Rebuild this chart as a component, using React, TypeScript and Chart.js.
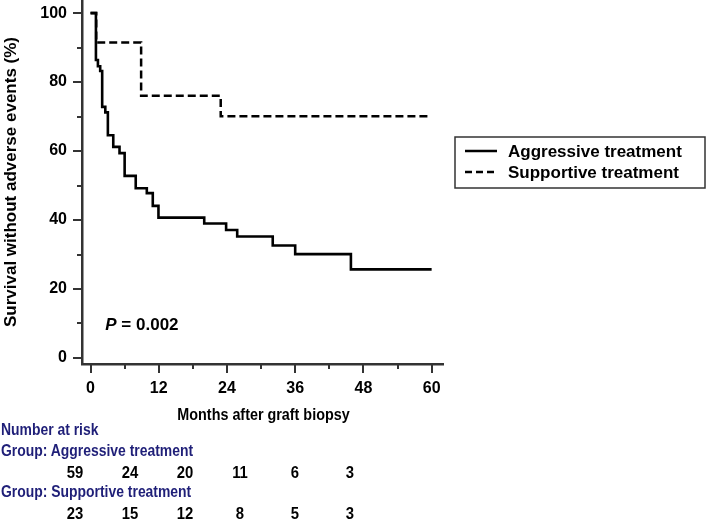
import React, { useEffect, useRef } from "react";
import { Chart, registerables } from "chart.js";

Chart.register(...registerables);

// ---- data ----
const AGG_MONTHS = [0, 0.95, 1.3, 1.7, 2.05, 2.6, 3.05, 4.0, 5.1, 6.0, 7.95, 9.9, 10.95, 11.95, 20.0, 23.85, 25.8, 32.05, 36.0, 45.8, 60];
const AGG_SURV = [100, 86.4, 84.6, 83.2, 72.8, 71.2, 64.6, 61.2, 59.4, 52.8, 49.2, 47.8, 44.1, 40.7, 39.0, 37.1, 35.2, 32.6, 30.1, 25.7, 25.7];
const SUP_MONTHS = [0, 1.0, 8.9, 22.9, 59.4];
const SUP_SURV = [100, 91.5, 76.0, 70.1, 70.1];

const SERIES_NAMES = ["Aggressive treatment", "Supportive treatment"];
const X_TICKS = [0, 6, 12, 18, 24, 30, 36, 42, 48, 54, 60];
const X_LABELED = [0, 12, 24, 36, 48, 60];
const Y_TICKS = [0, 10, 20, 30, 40, 50, 60, 70, 80, 90, 100];
const Y_LABELED = [0, 20, 40, 60, 80, 100];
const X_TITLE = "Months after graft biopsy";
const Y_TITLE = "Survival without adverse events (%)";
const P_VALUE = "0.002";
const P_POS = [2.6, 9.6];

const RISK_TITLE = "Number at risk";
const RISK_GROUPS = ["Group: Aggressive treatment", "Group: Supportive treatment"];
const RISK_AGG = [59, 24, 20, 11, 6, 3];
const RISK_SUP = [23, 15, 12, 8, 5, 3];

const FONT = "'Liberation Sans', Arial, Helvetica, sans-serif";
const AXIS = "#333333";
const NAVY = "#1f1f78";

const decor = {
  id: "decor",
  afterDraw(chart: any) {
    const { ctx, chartArea } = chart;
    const x = chart.scales.x;
    const y = chart.scales.y;
    ctx.save();
    ctx.strokeStyle = AXIS;
    ctx.lineWidth = 2;
    ctx.setLineDash([]);
    // tick marks
    X_TICKS.forEach((v) => {
      const px = Math.round(x.getPixelForValue(v));
      const len = X_LABELED.includes(v) ? 9 : 5;
      ctx.beginPath();
      ctx.moveTo(px, chartArea.bottom);
      ctx.lineTo(px, chartArea.bottom + len);
      ctx.stroke();
    });
    Y_TICKS.forEach((v) => {
      const py = Math.round(y.getPixelForValue(v));
      const len = Y_LABELED.includes(v) ? 9 : 5;
      ctx.beginPath();
      ctx.moveTo(chartArea.left, py);
      ctx.lineTo(chartArea.left - len, py);
      ctx.stroke();
    });

    // x-axis title (slightly condensed like the original)
    ctx.fillStyle = "#000";
    ctx.textBaseline = "middle";
    ctx.textAlign = "center";
    ctx.save();
    ctx.translate((chartArea.left + chartArea.right) / 2 + 1, chartArea.bottom + 51);
    ctx.scale(0.87, 1);
    ctx.font = `bold 16.5px ${FONT}`;
    ctx.fillText(X_TITLE, 0, 0);
    ctx.restore();

    // P value
    ctx.textAlign = "left";
    const px = x.getPixelForValue(P_POS[0]);
    const py = y.getPixelForValue(P_POS[1]);
    ctx.font = `italic bold 17px ${FONT}`;
    ctx.fillText("P", px, py);
    const pw = ctx.measureText("P").width;
    ctx.font = `bold 17px ${FONT}`;
    ctx.fillText(" = " + P_VALUE, px + pw, py);

    // legend
    const lx = chartArea.right + 12;
    const ly = 137;
    const lw = 250;
    const lh = 51;
    ctx.lineWidth = 1.5;
    ctx.strokeStyle = AXIS;
    ctx.strokeRect(lx, ly, lw, lh);
    const rows = [ly + 14, ly + 35];
    ctx.strokeStyle = "#000";
    ctx.lineWidth = 2.5;
    SERIES_NAMES.forEach((name, i) => {
      ctx.setLineDash(i === 1 ? [7, 4] : []);
      ctx.beginPath();
      ctx.moveTo(lx + 10, rows[i]);
      ctx.lineTo(lx + 42, rows[i]);
      ctx.stroke();
      ctx.setLineDash([]);
      ctx.font = `bold 17px ${FONT}`;
      ctx.fillStyle = "#000";
      ctx.fillText(name, lx + 53, rows[i] + 1);
    });
    ctx.restore();
  },
};

export default function App() {
  const ref = useRef<HTMLCanvasElement | null>(null);

  useEffect(() => {
    if (!ref.current) return;
    const chart = new Chart(ref.current, {
      type: "line",
      data: {
        datasets: [
          {
            label: SERIES_NAMES[0],
            data: AGG_MONTHS.map((m, i) => ({ x: m, y: AGG_SURV[i] })),
            borderColor: "#000",
            borderWidth: 2.6,
            pointRadius: 0,
            stepped: "before",
            fill: false,
          },
          {
            label: SERIES_NAMES[1],
            data: SUP_MONTHS.map((m, i) => ({ x: m, y: SUP_SURV[i] })),
            borderColor: "#000",
            borderWidth: 2.5,
            borderDash: [8, 4],
            pointRadius: 0,
            stepped: "before",
            fill: false,
          },
        ],
      },
      options: {
        animation: false,
        responsive: false,
        devicePixelRatio: 1,
        layout: { padding: { left: 0, top: 0, right: 266, bottom: 96 } },
        plugins: { legend: { display: false }, tooltip: { enabled: false } },
        scales: {
          x: {
            type: "linear",
            position: "bottom",
            min: -1.5,
            max: 62,
            afterBuildTicks: (s: any) => {
              s.ticks = X_TICKS.map((v) => ({ value: v }));
            },
            afterFit: (s: any) => {
              s.height = 60;
              s.paddingLeft = 0;
              s.paddingRight = 0;
            },
            grid: { display: false, drawTicks: false },
            border: { display: true, color: AXIS, width: 2.5 },
            ticks: {
              autoSkip: false,
              maxRotation: 0,
              padding: 15,
              color: "#000",
              font: { family: FONT, size: 16, weight: "bold" },
              callback: (v: any) => (X_LABELED.includes(Number(v)) ? String(v) : ""),
            },
            title: { display: false },
          },
          y: {
            type: "linear",
            min: -1.75,
            max: 103.8,
            afterBuildTicks: (s: any) => {
              s.ticks = Y_TICKS.map((v) => ({ value: v }));
            },
            afterFit: (s: any) => {
              s.width = 82;
              s.paddingTop = 0;
              s.paddingBottom = 0;
            },
            grid: { display: false, drawTicks: false },
            border: { display: true, color: AXIS, width: 2.5 },
            ticks: {
              autoSkip: false,
              padding: 15,
              color: "#000",
              font: { family: FONT, size: 16, weight: "bold" },
              callback: (v: any) => (Y_LABELED.includes(Number(v)) ? String(v) : ""),
            },
            title: {
              display: true,
              text: Y_TITLE,
              color: "#000",
              padding: { top: 1, bottom: 0 },
              font: { family: FONT, size: 17, weight: "bold" },
            },
          },
        },
      },
      plugins: [decor],
    });
    return () => chart.destroy();
  }, []);

  const line = (cy: number, extra: any) => ({
    position: "absolute" as const,
    top: cy - 10,
    height: 20,
    lineHeight: "20px",
    whiteSpace: "nowrap" as const,
    fontFamily: FONT,
    fontWeight: "bold" as const,
    ...extra,
  });

  const numRow = (vals: number[], cy: number) =>
    vals.map((v, i) => (
      <div
        key={i}
        style={line(cy, {
          left: 75 + i * 55 - 20,
          width: 40,
          textAlign: "center",
          fontSize: 16.5,
          color: "#000",
          transform: "scaleX(0.9)",
          transformOrigin: "center",
        })}
      >
        {v}
      </div>
    ));

  const heading = (cy: number) =>
    line(cy, { left: 1, fontSize: 16, color: NAVY, transform: "scaleX(0.87)", transformOrigin: "left center" });

  return (
    <div style={{ position: "fixed", left: 0, top: 0, width: 709, height: 520, background: "#fff" }}>
      <canvas ref={ref} width={709} height={520} style={{ position: "absolute", left: 0, top: 0 }} />
      <div style={heading(430)}>{RISK_TITLE}</div>
      <div style={heading(451)}>{RISK_GROUPS[0]}</div>
      {numRow(RISK_AGG, 472)}
      <div style={heading(492)}>{RISK_GROUPS[1]}</div>
      {numRow(RISK_SUP, 513)}
    </div>
  );
}
